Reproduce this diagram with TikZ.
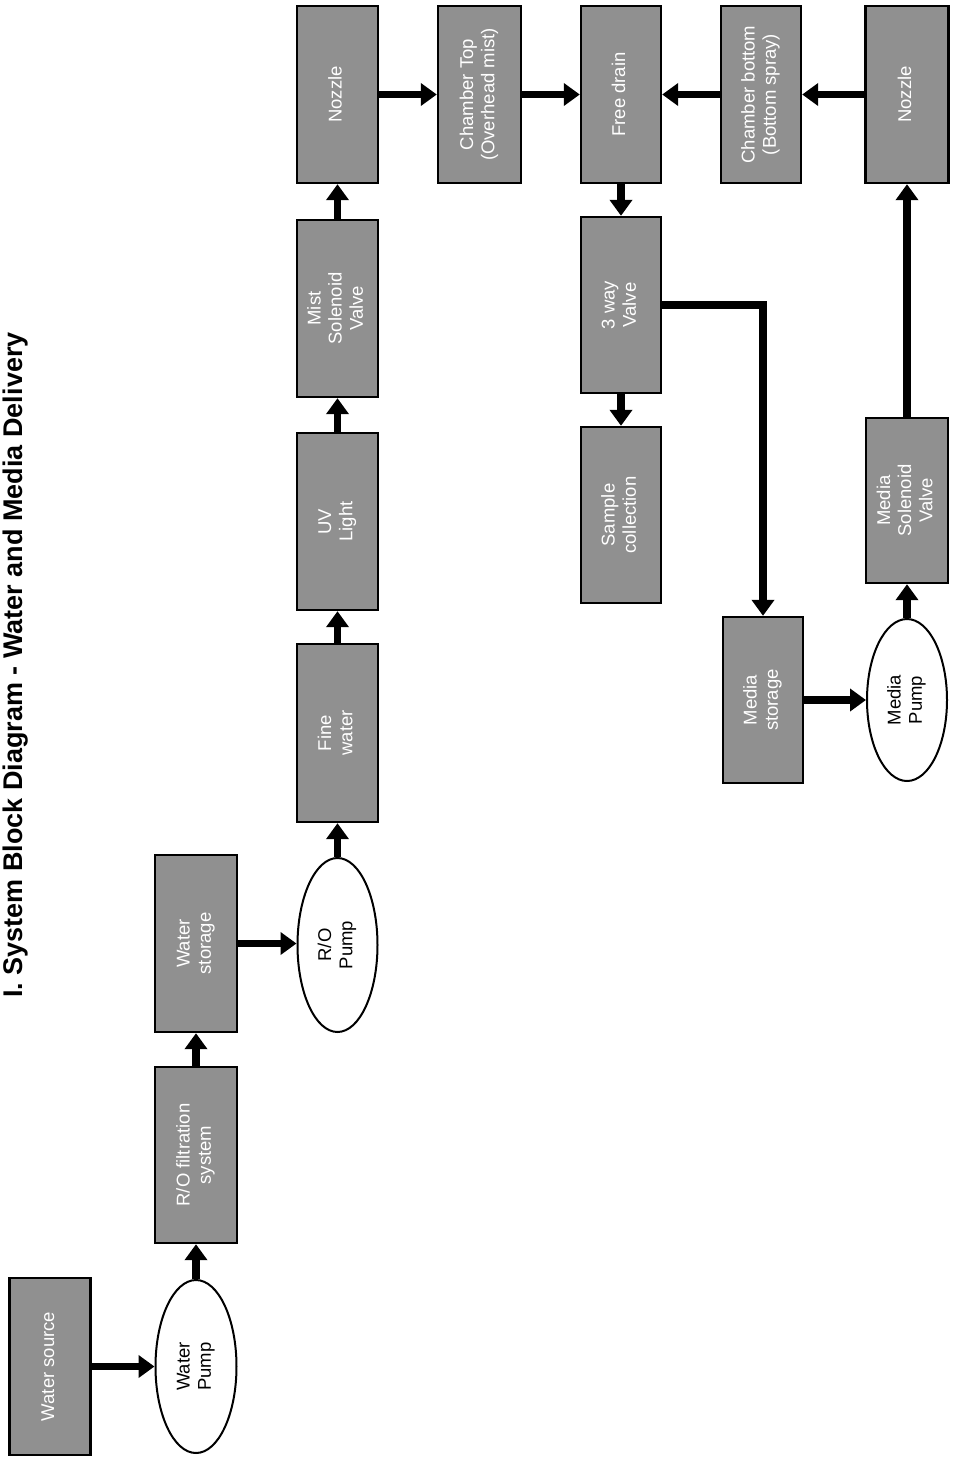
\documentclass[tikz,border=0pt]{standalone}
\usepackage{fontspec}
\setmainfont{Liberation Sans}
\usetikzlibrary{arrows.meta,shapes.geometric}
\definecolor{boxgray}{HTML}{909090}
\newcommand{\rlab}[1]{\rotatebox{90}{\begin{tabular}{@{}c@{}}#1\end{tabular}}}
\begin{document}
\begin{tikzpicture}[x=0.5pt,y=-0.5pt,
  box/.style={draw=black, line width=1.2pt, fill=boxgray, text=white, inner sep=0pt,
    minimum width=40.5pt, minimum height=88.5pt, font=\fontsize{9.25}{10.6}\selectfont},
  pump/.style={ellipse, draw=black, line width=1pt, fill=white, text=black, inner sep=0pt,
    minimum width=40.5pt, minimum height=86.5pt, font=\fontsize{9.25}{10.6}\selectfont},
  flow/.style={line width=3.6pt, -{Triangle[length=8pt,width=11pt]}},
  titlestyle/.style={rotate=90, anchor=base, inner sep=0pt, font=\bfseries\fontsize{13.5}{16}\selectfont}]
\useasboundingbox (0,0) rectangle (955,1457);
\fill[white] (0,0) rectangle (955,1457);

\node[titlestyle] (title) at (22,665) {I. System Block Diagram - Water and Media Delivery};

% water chain
\node[box] (ws) at (50,1366.5) {\rlab{Water source}};
\node[pump] (wp) at (196,1366.5) {\rlab{Water\\Pump}};
\node[box, minimum width=41pt, minimum height=88pt] (rof) at (196,1155) {\rlab{R/O filtration\\system}};
\node[box, minimum width=41pt] (wst) at (196,943.5) {\rlab{Water\\storage}};
\node[pump, minimum width=40pt, minimum height=87pt] (rop) at (337.5,945) {\rlab{R/O\\Pump}};
\node[box, minimum height=89pt] (fw) at (337.5,733) {\rlab{Fine\\water}};
\node[box] (uv) at (337.5,521.5) {\rlab{UV\\Light}};
\node[box] (msv) at (337.5,308.5) {\rlab{Mist\\Solenoid\\Valve}};
\node[box] (noz1) at (337.5,94.5) {\rlab{Nozzle}};
\node[box, minimum width=41.5pt] (ct) at (479.5,94.5) {\rlab{Chamber Top\\(Overhead mist)}};
\node[box, minimum width=40pt] (fd) at (621,94.5) {\rlab{Free drain}};
\node[box, minimum width=40pt, minimum height=88pt] (tw) at (621,305) {\rlab{3 way\\Valve}};
\node[box, minimum width=40pt, minimum height=88pt] (sc) at (621,515) {\rlab{Sample\\collection}};
\node[box, minimum width=40pt] (cb) at (761,94.5) {\rlab{Chamber bottom\\(Bottom spray)}};
\node[box, minimum width=41.5pt] (noz2) at (907,94.5) {\rlab{Nozzle}};
% media chain
\node[box, minimum width=40pt, minimum height=83pt] (ms) at (763,700) {\rlab{Media\\storage}};
\node[pump, minimum width=40pt, minimum height=81pt] (mp) at (907,700) {\rlab{Media\\Pump}};
\node[box, minimum width=41pt, minimum height=82.5pt] (mso) at (907,500.5) {\rlab{Media\\Solenoid\\Valve}};

% connectors
\draw[flow] (ws.east) -- (wp.west);
\draw[flow] (wp.north) -- (rof.south);
\draw[flow] (rof.north) -- (wst.south);
\draw[flow] (wst.east) -- (wst.east -| rop.west);
\draw[flow] (rop.north) -- (fw.south);
\draw[flow] (fw.north) -- (uv.south);
\draw[flow] (uv.north) -- (msv.south);
\draw[flow] (msv.north) -- (noz1.south);
\draw[flow] (noz1.east) -- (ct.west);
\draw[flow] (ct.east) -- (fd.west);
\draw[flow] (noz2.west) -- (cb.east);
\draw[flow] (cb.west) -- (fd.east);
\draw[flow] (fd.south) -- (tw.north);
\draw[flow] (tw.south) -- (sc.north);
\draw[flow] (tw.east) -| (ms.north);
\draw[flow] (ms.east) -- (mp.west);
\draw[flow] (mp.north) -- (mso.south);
\draw[flow] (mso.north) -- (noz2.south);
\end{tikzpicture}
\end{document}
